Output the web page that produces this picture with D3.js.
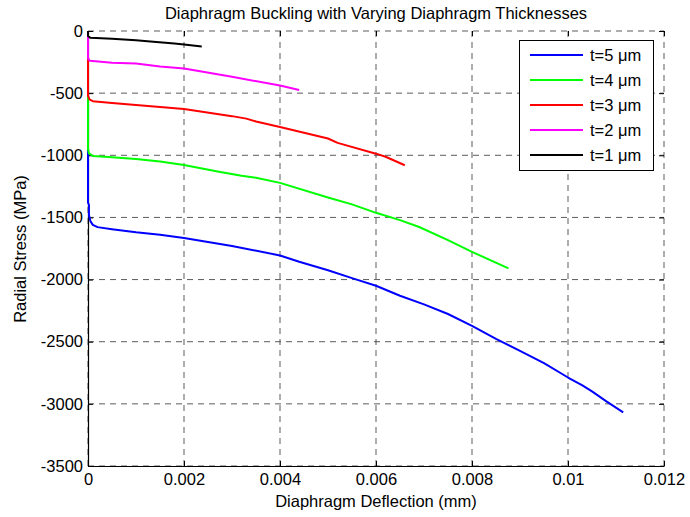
<!DOCTYPE html>
<html><head><meta charset="utf-8">
<script src="https://cdn.jsdelivr.net/npm/d3@7"></script>
<style>body{margin:0;background:#fff}text{font-family:"Liberation Sans",Arial,sans-serif}</style>
</head><body><svg id="c" width="690" height="517"></svg>
<script>
const xTicks = [0, 0.002, 0.004, 0.006, 0.008, 0.01, 0.012];
const xTickLabels = ["0", "0.002", "0.004", "0.006", "0.008", "0.01", "0.012"];
const yTicks = [0, -500, -1000, -1500, -2000, -2500, -3000, -3500];
const yTickLabels = ["0", "-500", "-1000", "-1500", "-2000", "-2500", "-3000", "-3500"];
const seriesNames = ["t=5 \u03BCm", "t=4 \u03BCm", "t=3 \u03BCm", "t=2 \u03BCm", "t=1 \u03BCm"];
const seriesColors = ["#0000ff", "#00ff00", "#ff0000", "#ff00ff", "#000000"];

const t5x = [0, 0, 0.00002, 0.00002, 0.00005, 0.0001, 0.0002, 0.0005, 0.001, 0.0015, 0.002, 0.003, 0.004, 0.0044, 0.005, 0.0055, 0.006, 0.0065, 0.007, 0.0075, 0.008, 0.0085, 0.009, 0.0095, 0.01, 0.0103, 0.0105, 0.0108, 0.01115];
const t5y = [0, -1380, -1400, -1480, -1530, -1560, -1578, -1595, -1620, -1640, -1666, -1730, -1806, -1856, -1925, -1988, -2050, -2130, -2200, -2277, -2373, -2477, -2574, -2672, -2788, -2852, -2900, -2980, -3068];
const t4x = [0, 0, 0.00002, 0.0001, 0.0005, 0.001, 0.0015, 0.002, 0.0027, 0.0032, 0.0035, 0.004, 0.005, 0.0055, 0.006, 0.0065, 0.0069, 0.0075, 0.008, 0.00876];
const t4y = [0, -950, -985, -1005, -1015, -1030, -1050, -1078, -1130, -1165, -1180, -1222, -1340, -1395, -1463, -1522, -1577, -1683, -1777, -1910];
const t3x = [0, 0, 0.00003, 0.0001, 0.0005, 0.001, 0.002, 0.003, 0.0033, 0.0035, 0.004, 0.005, 0.0052, 0.006, 0.0062, 0.0066];
const t3y = [0, -520, -550, -565, -580, -595, -628, -685, -705, -728, -773, -865, -900, -987, -1012, -1080];
const t2x = [0, 0, 0.00004, 0.0005, 0.001, 0.0015, 0.002, 0.003, 0.004, 0.0044];
const t2y = [0, -220, -240, -255, -262, -285, -302, -368, -439, -474];
const t1x = [0, 0, 0.00005, 0.0005, 0.001, 0.0013, 0.0018, 0.002, 0.00237];
const t1y = [0, -40, -55, -62, -75, -85, -100, -108, -125];

const seriesX = [t5x, t4x, t3x, t2x, t1x];
const seriesY = [t5y, t4y, t3y, t2y, t1y];

const FS = 16.5;
const svg = d3.select("#c");
const L = 88, R = 664, T = 31, B = 466;
const x = d3.scaleLinear().domain([0, 0.012]).range([L, R]);
const y = d3.scaleLinear().domain([-3500, 0]).range([B, T]);

// grid
const g = svg.append("g");
g.selectAll(".vg").data(xTicks).join("line")
  .attr("x1", d => x(d)).attr("x2", d => x(d)).attr("y1", T).attr("y2", B)
  .attr("stroke", "#333").attr("stroke-width", 1).attr("stroke-dasharray", "6,5").attr("stroke-opacity", 0.8);
g.selectAll(".hg").data(yTicks).join("line")
  .attr("y1", d => y(d)).attr("y2", d => y(d)).attr("x1", L).attr("x2", R)
  .attr("stroke", "#333").attr("stroke-width", 1).attr("stroke-dasharray", "6,5").attr("stroke-opacity", 0.8);

// axes
const xAxis = d3.axisBottom(x).tickValues(xTicks).tickFormat((d, i) => xTickLabels[i]).tickSizeInner(-5).tickSizeOuter(0).tickPadding(7);
const yAxis = d3.axisLeft(y).tickValues(yTicks).tickFormat((d, i) => yTickLabels[i]).tickSizeInner(-5).tickSizeOuter(0).tickPadding(5);
const xa = svg.append("g").attr("transform", `translate(0,${B})`).call(xAxis);
const ya = svg.append("g").attr("transform", `translate(${L},0)`).call(yAxis);
const xTop = svg.append("g").attr("transform", `translate(0,${T})`).call(d3.axisTop(x).tickValues(xTicks).tickFormat("").tickSizeInner(-5).tickSizeOuter(0));
const yRight = svg.append("g").attr("transform", `translate(${R},0)`).call(d3.axisRight(y).tickValues(yTicks).tickFormat("").tickSizeInner(-5).tickSizeOuter(0));
xTop.select(".domain").remove();
yRight.select(".domain").remove();
[xa, ya, xTop, yRight].forEach(a => {
  a.selectAll("line").attr("stroke", "#000");
  a.selectAll(".domain").attr("stroke", "#000").attr("stroke-width", 1.2);
  a.selectAll("text").attr("font-size", FS).attr("fill", "#000").attr("font-family", "Liberation Sans, Arial, sans-serif");
});

// lines
const line = d3.line().x(d => x(d[0])).y(d => y(d[1]));
seriesX.forEach((xs, i) => {
  const pts = xs.map((v, j) => [v, seriesY[i][j]]);
  svg.append("path").attr("d", line(pts)).attr("fill", "none")
    .attr("stroke", seriesColors[i]).attr("stroke-width", 2).attr("stroke-linejoin", "round");
});

// title & labels
svg.append("text").attr("x", 376).attr("y", 18.5).attr("text-anchor", "middle").attr("font-size", FS)
  .text("Diaphragm Buckling with Varying Diaphragm Thicknesses");
svg.append("text").attr("x", 376).attr("y", 507).attr("text-anchor", "middle").attr("font-size", FS)
  .text("Diaphragm Deflection (mm)");
svg.append("text").attr("transform", "translate(26,249) rotate(-90)").attr("text-anchor", "middle").attr("font-size", FS)
  .text("Radial Stress (MPa)");

// legend
const lg = svg.append("g");
lg.append("rect").attr("x", 519.5).attr("y", 40.5).attr("width", 134).attr("height", 130)
  .attr("fill", "#fff").attr("stroke", "#000").attr("stroke-width", 1);
seriesNames.forEach((n, i) => {
  const yy = 55 + i * 25;
  lg.append("line").attr("x1", 530).attr("x2", 583).attr("y1", yy).attr("y2", yy)
    .attr("stroke", seriesColors[i]).attr("stroke-width", 2);
  lg.append("text").attr("x", 590).attr("y", yy + 6).attr("font-size", FS).text(n);
});
</script></body></html>
